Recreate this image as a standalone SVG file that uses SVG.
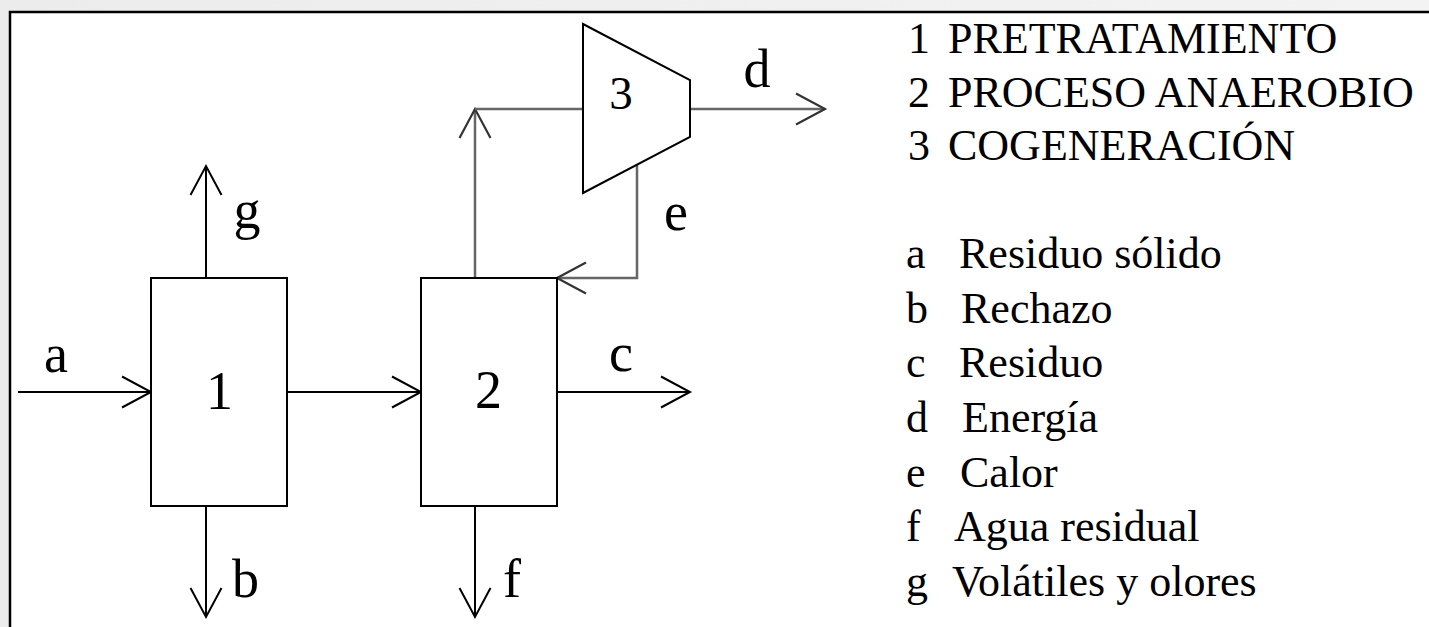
<svg xmlns="http://www.w3.org/2000/svg" width="1429" height="627" viewBox="0 0 1429 627">
<defs>
<style>
.ln{fill:none;stroke:#000;stroke-width:2}
.gl{fill:none;stroke:#666;stroke-width:2.5}
.box{fill:#fff;stroke:#000;stroke-width:2}
.lbl{font-family:"Liberation Serif","Times New Roman",serif;font-size:54px;fill:#000;text-anchor:middle}
.leg{font-family:"Liberation Serif","Times New Roman",serif;font-size:44px;fill:#000}
</style>
<marker id="ah" markerUnits="userSpaceOnUse" markerWidth="40" markerHeight="40" refX="0" refY="0" orient="auto" overflow="visible">
<path d="M-29,-15.5 L0,0 L-29,15.5" fill="none" stroke="#000" stroke-width="2"/>
</marker>
<marker id="ahg" markerUnits="userSpaceOnUse" markerWidth="40" markerHeight="40" refX="0" refY="0" orient="auto" overflow="visible">
<path d="M-29,-15.5 L0,0 L-29,15.5" fill="none" stroke="#333" stroke-width="2.2"/>
</marker>
<linearGradient id="bg" x1="0" y1="0" x2="1" y2="0">
<stop offset="0" stop-color="#ececec"/>
<stop offset="1" stop-color="#f3f3f3"/>
</linearGradient>
</defs>
<rect x="0" y="0" width="1429" height="627" fill="url(#bg)"/>
<rect x="10" y="12" width="1419" height="615" fill="#fff"/>
<path d="M10,627 L10,12 L1429,12" fill="none" stroke="#000" stroke-width="2.5"/>

<g id="connectors">
<line id="a" class="ln" x1="18" y1="392" x2="151" y2="392" marker-end="url(#ah)"/>
<line id="c12" class="ln" x1="287" y1="392" x2="421" y2="392" marker-end="url(#ah)"/>
<line id="g" class="ln" x1="206" y1="278" x2="206" y2="166" marker-end="url(#ah)"/>
<line id="b" class="ln" x1="206" y1="506" x2="206" y2="617" marker-end="url(#ah)"/>
<line id="c" class="ln" x1="557" y1="392" x2="690" y2="392" marker-end="url(#ah)"/>
<line id="f" class="ln" x1="475" y1="506" x2="475" y2="617" marker-end="url(#ah)"/>
<line id="up" class="gl" x1="475" y1="278" x2="475" y2="109" marker-end="url(#ahg)"/>
<line id="to3" class="gl" x1="475" y1="109" x2="583" y2="109"/>
<line id="d" class="gl" x1="690" y1="109" x2="825" y2="109" marker-end="url(#ahg)"/>
<polyline id="e" class="gl" points="637,165 637,278 557,278" marker-end="url(#ahg)"/>
</g>

<g id="node1">
<rect class="box" x="151" y="278" width="136" height="228"/>
<text class="lbl" x="219.5" y="409">1</text>
</g>
<g id="node2">
<rect class="box" x="421" y="278" width="136" height="228"/>
<text class="lbl" x="488.5" y="408">2</text>
</g>
<g id="node3">
<polygon class="box" points="583,24 690,80 690,137 583,193"/>
<text class="lbl" x="621" y="109" style="font-size:47px">3</text>
</g>

<g id="flow-labels">
<text class="lbl" x="56" y="372">a</text>
<text class="lbl" x="245.5" y="597">b</text>
<text class="lbl" x="621" y="371">c</text>
<text class="lbl" x="757" y="87">d</text>
<text class="lbl" x="676" y="230">e</text>
<text class="lbl" x="512" y="597">f</text>
<text class="lbl" x="247" y="228">g</text>
</g>

<g id="legend">
<text class="leg" x="908" y="53">1</text><text class="leg" x="948" y="53">PRETRATAMIENTO</text>
<text class="leg" x="908" y="107">2</text><text class="leg" x="948" y="107">PROCESO ANAEROBIO</text>
<text class="leg" x="908" y="160">3</text><text class="leg" x="948" y="160">COGENERACIÓN</text>
<text class="leg" x="906" y="268">a</text><text class="leg" x="959" y="268">Residuo sólido</text>
<text class="leg" x="906" y="323">b</text><text class="leg" x="961" y="323">Rechazo</text>
<text class="leg" x="906" y="377">c</text><text class="leg" x="959" y="377">Residuo</text>
<text class="leg" x="906" y="432">d</text><text class="leg" x="962" y="432">Energía</text>
<text class="leg" x="906" y="487">e</text><text class="leg" x="960" y="487">Calor</text>
<text class="leg" x="906" y="541">f</text><text class="leg" x="954" y="541">Agua residual</text>
<text class="leg" x="906" y="596">g</text><text class="leg" x="952" y="596">Volátiles y olores</text>
</g>
</svg>
